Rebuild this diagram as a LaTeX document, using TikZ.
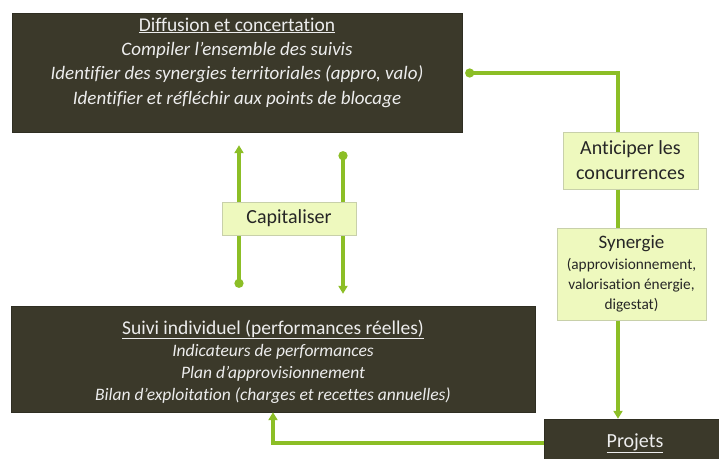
\documentclass[tikz,border=0pt]{standalone}
\usepackage{fontspec}
\setmainfont{Carlito}[Ligatures=NoCommon]
\usetikzlibrary{arrows.meta,calc}
\definecolor{olivedark}{RGB}{59, 57, 42}
\definecolor{leaf}{RGB}{140, 190, 38}
\definecolor{paleleaf}{RGB}{238, 249, 190}
\definecolor{paleedge}{RGB}{200, 208, 170}

\tikzset{
  darkbox/.style={draw=olivedark!80!black, fill=olivedark, inner sep=0pt},
  darktext/.style={text=white!93!black, align=center, inner sep=0pt},
  lightbox/.style={draw=paleedge, fill=paleleaf, line width=1pt, inner sep=0pt, align=center, text=black!85},
  link/.style={draw=leaf, line width=3.2pt},
  dotarrow/.style={link, {Circle[length=9pt]}-{Triangle[length=8pt,width=9pt]}},
  dotline/.style={link, {Circle[length=9pt]}-},
  plainarrow/.style={link, -{Triangle[length=8pt,width=9pt]}}
}

\begin{document}
\begin{tikzpicture}[x=1pt, y=-1pt]
\useasboundingbox (0,0) rectangle (719,458);

% boites sombres
\node[darkbox, minimum width=450, minimum height=119] (diff) at (237,72.5) {};
\node[darktext, font=\fontsize{19}{24.3}\selectfont] (diffText) at (237,62.5) {{\fontsize{19.5}{24.3}\selectfont\underline{Diffusion et concertation}}\\
  \textit{Compiler l’ensemble des suivis}\\
  \textit{Identifier des synergies territoriales (appro, valo)}\\
  \textit{Identifier et réfléchir aux points de blocage}};

\node[darkbox, minimum width=524, minimum height=106] (suivi) at (273,359) {};
\node[darktext, font=\fontsize{17.5}{22}\selectfont] (suiviText) at (273,361.5) {{\fontsize{19.5}{22}\selectfont\underline{Suivi individuel (performances réelles)}}\\
  \textit{Indicateurs de performances}\\
  \textit{Plan d’approvisionnement}\\
  \textit{Bilan d’exploitation (charges et recettes annuelles)}};

\node[darkbox, darktext, minimum width=182, minimum height=48, font=\fontsize{20}{24}\selectfont] (projets) at (635,443) {\underline{Projets}};

% liens capitaliser
\coordinate (capL) at (239,0);
\coordinate (capR) at (343,0);
\draw[dotarrow] ($(suivi.north -| capL)+(0,-18)$) -- ($(diff.south -| capL)+(0,13)$);
\draw[dotarrow] ($(diff.south -| capR)+(0,19)$) -- ($(suivi.north -| capR)+(0,-12)$);
\node[lightbox, minimum width=134, minimum height=33, font=\fontsize{20}{22}\selectfont] (capit) at (289,218.5) {Capitaliser};

% colonne de droite
\node[lightbox, minimum width=135, minimum height=57, font=\fontsize{20}{25}\selectfont] (anti) at (630.5,160.5) {Anticiper les\\concurrences};
\node[lightbox, minimum width=149, minimum height=92, font=\fontsize{15.3}{20}\selectfont] (syn) at (631.5,274) {{\fontsize{19}{22}\selectfont Synergie}\\[1pt](approvisionnement,\\valorisation énergie,\\digestat)};

\coordinate (col) at (618,0);
\draw[dotline] ($(diff.east)+(3,0.5)$) -- ($(diff.east -| col)+(0,0.5)$) -- (anti.north -| col);
\draw[link] (anti.south -| col) -- (syn.north -| col);
\draw[plainarrow] (syn.south -| col) -- (projets.north -| col);

\draw[plainarrow] (projets.west) -| (suivi.south);
\end{tikzpicture}
\end{document}
